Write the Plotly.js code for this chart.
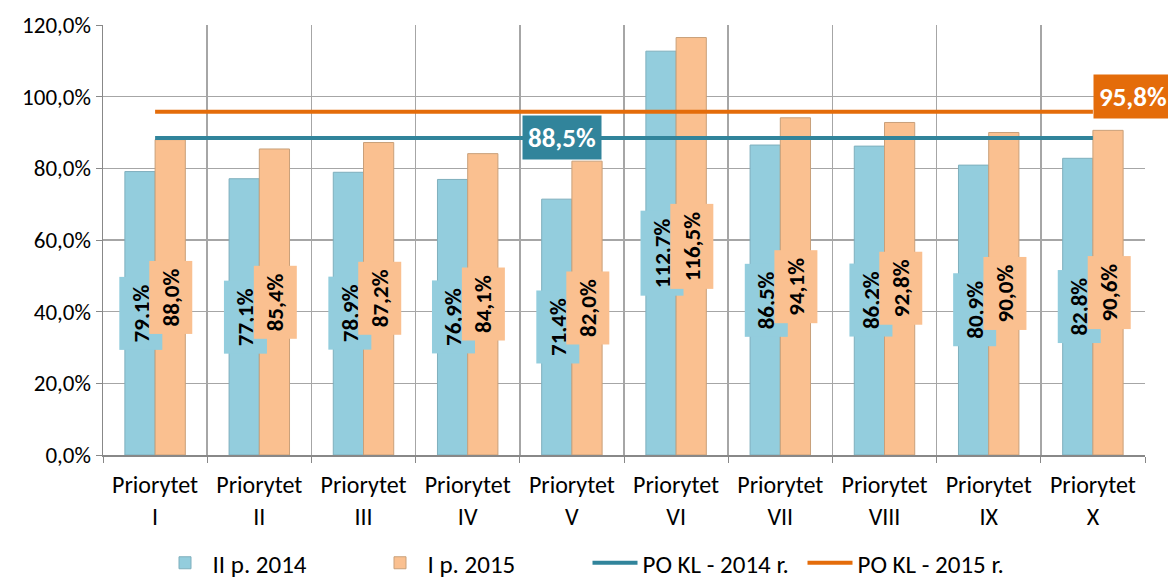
<!DOCTYPE html>
<html><head><meta charset="utf-8">
<script src="https://cdn.plot.ly/plotly-3.0.1.min.js"></script>
<style>body{margin:0;background:#fff}#c{width:1168px;height:586px}</style>
</head><body><div id="c"></div>
<script>
const categories = ["Priorytet<br>I","Priorytet<br>II","Priorytet<br>III","Priorytet<br>IV","Priorytet<br>V","Priorytet<br>VI","Priorytet<br>VII","Priorytet<br>VIII","Priorytet<br>IX","Priorytet<br>X"];
const series2014 = [79.1,77.1,78.9,76.9,71.4,112.7,86.5,86.2,80.9,82.8];
const series2015 = [88.0,85.4,87.2,84.1,82.0,116.5,94.1,92.8,90.0,90.6];
const avg2014 = 88.5;
const avg2015 = 95.8;
const names = ["II p. 2014","I p. 2015","PO KL - 2014 r.","PO KL - 2015 r."];
const yTicks = [0,20,40,60,80,100,120];

const FONT = "Carlito, Lato, 'Open Sans', sans-serif";
const fmt = v => v.toFixed(1).replace('.', ',') + '%';
const blue = '#93CDDD', orange = '#FAC090', teal = '#31849B', dorange = '#E46C0A';

const traces = [
  {type:'bar', name:names[0], x:categories, y:series2014, marker:{color:blue, line:{color:'#7FAFBD', width:1}}, hoverinfo:'none'},
  {type:'bar', name:names[1], x:categories, y:series2015, marker:{color:orange, line:{color:'#C9A07A', width:1}}, hoverinfo:'none'},
  {type:'scatter', mode:'lines', name:names[2], x:categories, y:categories.map(()=>avg2014), line:{color:teal, width:4}},
  {type:'scatter', mode:'lines', name:names[3], x:categories, y:categories.map(()=>avg2015), line:{color:dorange, width:4}}
];

const ann = [];
categories.forEach((c,i)=>{
  ann.push({x:c, y:series2014[i]/2, xref:'x', yref:'y', text:'<b>'+fmt(series2014[i])+'</b>', showarrow:false, textangle:-90, xshift:-14, bgcolor:blue, font:{family:FONT,size:23,color:'#000'}, borderpad:7});
  ann.push({x:c, y:series2015[i]/2, xref:'x', yref:'y', text:'<b>'+fmt(series2015[i])+'</b>', showarrow:false, textangle:-90, xshift:16, bgcolor:orange, font:{family:FONT,size:23,color:'#000'}, borderpad:7});
});
ann.push({x:categories[4], y:avg2014, xref:'x', yref:'y', text:'<b>'+fmt(avg2014)+'</b>', showarrow:false, xshift:-10, bgcolor:teal, font:{family:FONT,size:27,color:'#fff'}, borderpad:5});
ann.push({x:categories[9], y:avg2015, xref:'x', yref:'y', text:'<b>'+fmt(avg2015)+'</b>', showarrow:false, xanchor:'left', yanchor:'middle', yshift:15, bgcolor:dorange, font:{family:FONT,size:27,color:'#fff'}, borderpad:5});

const layout = {
  width:1168, height:586,
  margin:{l:103, r:23, t:25, b:131, autoexpand:false},
  paper_bgcolor:'#fff', plot_bgcolor:'#fff',
  font:{family:FONT, size:22, color:'#000'},
  separators:', ',
  barmode:'group', bargap:0.42, bargroupgap:0,
  showlegend:true,
  legend:{orientation:'h', x:0.503, xanchor:'center', xref:'container', yref:'container', y:-0.02, yanchor:'bottom', font:{family:FONT,size:25}, traceorder:'normal', itemwidth:45, entrywidth:155, entrywidthmode:'pixels'},
  xaxis:{type:'category', range:[-0.5,9.5], tickson:'boundaries', showgrid:true, gridcolor:'#A6A6A6', gridwidth:1.5, showline:true, linecolor:'#888', linewidth:1.5, ticks:'outside', ticklen:6, tickcolor:'#888', tickfont:{family:FONT,size:24}, ticklabelstandoff:8, fixedrange:true},
  yaxis:{range:[0,120], tickvals:yTicks, ticktext:yTicks.map(fmt), showgrid:true, gridcolor:'#A6A6A6', gridwidth:1.5, showline:true, linecolor:'#888', linewidth:1.5, ticks:'outside', ticklen:6, tickcolor:'#888', tickfont:{family:FONT,size:23}, zeroline:false, fixedrange:true},
  annotations:ann
};
Plotly.newPlot('c', traces, layout, {displayModeBar:false, staticPlot:true});
</script></body></html>
